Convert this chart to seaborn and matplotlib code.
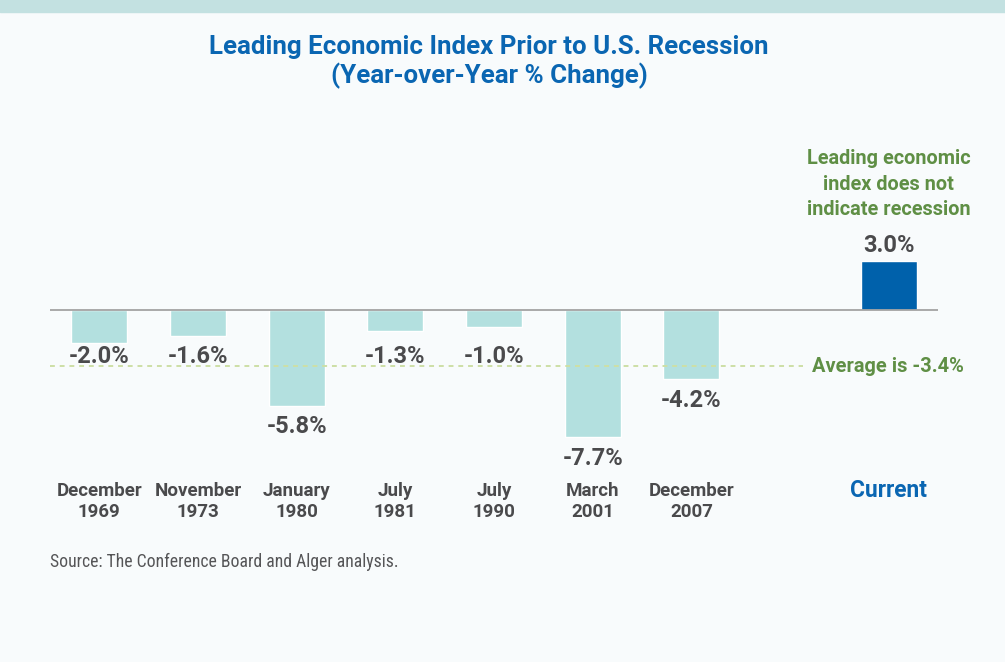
import matplotlib
matplotlib.use("Agg")
import matplotlib.pyplot as plt
from matplotlib.patches import Rectangle
import seaborn as sns
import pandas as pd

# ---- data ----
periods = ["December\n1969", "November\n1973", "January\n1980", "July\n1981",
           "July\n1990", "March\n2001", "December\n2007", "Current"]
values = [-2.0, -1.6, -5.8, -1.3, -1.0, -7.7, -4.2, 3.0]
value_labels = ["-2.0%", "-1.6%", "-5.8%", "-1.3%", "-1.0%", "-7.7%", "-4.2%", "3.0%"]
kinds = ["past"] * 7 + ["current"]
average = -3.4
average_label = "Average is -3.4%"
note = "Leading economic\nindex does not\nindicate recession"
title = "Leading Economic Index Prior to U.S. Recession\n(Year-over-Year % Change)"
source = "Source: The Conference Board and Alger analysis."

spacer = " "
order = periods[:-1] + [spacer] + periods[-1:]

df = pd.DataFrame({"period": periods, "value": values, "kind": kinds})

# ---- style ----
sns.set_theme(style="white")
SANS = ["Roboto", "DejaVu Sans"]
COND = ["Roboto Condensed", "DejaVu Sans"]
plt.rcParams["font.family"] = SANS

BG = "#f8fbfc"
BAND = "#c3e1e1"
LIGHT = "#b3e0df"
DARK = "#0061ab"
BLUE = "#0a66b2"
GREEN = "#5f8f45"
GRAY = "#4a4a4c"

W, H = 1005, 662
fig = plt.figure(figsize=(W / 100, H / 100), dpi=100, facecolor=BG)
fig.patches.append(Rectangle((0, 1 - 12 / H), 1, 12 / H, transform=fig.transFigure,
                             color=BAND, zorder=0))

zero_px, ppu = 310, 16.5
ymax, ymin = 10, -10
top_px = zero_px - ymax * ppu
bot_px = zero_px - ymin * ppu
ax = fig.add_axes([50 / W, 1 - bot_px / H, 888 / W, (bot_px - top_px) / H])
ax.set_facecolor("none")

sns.barplot(data=df, x="period", y="value", hue="kind", order=order,
            palette={"past": LIGHT, "current": DARK}, width=0.57,
            dodge=False, legend=False, saturation=1, ax=ax)

ax.set_xlim(-0.5, len(order) - 0.5)
ax.set_ylim(ymin, ymax)
for s in ax.spines.values():
    s.set_visible(False)
ax.set_yticks([])
ax.set_ylabel("")
ax.set_xlabel("")

ax.axhline(0, color="#a3a3a3", lw=1.3, zorder=3)
ax.axhline(average, xmin=0, xmax=(803 - 50) / 888, color="#cddfa6", lw=1.4,
           ls=(0, (2.5, 2.5)), zorder=1)

# value labels (small bars share a common label line)
label_floor = -2.0
for p, v, lab in zip(periods, values, value_labels):
    xi = order.index(p)
    if v > 0:
        y, off = v, 5.8
    elif v >= label_floor:
        y, off = label_floor, -14.4
    else:
        y, off = v, -19.8
    ax.annotate(lab, (xi, y), xytext=(0, off), textcoords="offset points",
                ha="center", va="baseline", fontsize=17, color=GRAY,
                family=SANS, fontweight="bold")

# x labels
ax.set_xticks(range(len(order)))
ax.set_xticklabels([o if o != "Current" else "" for o in order],
                   fontsize=13.5, fontweight="bold", color=GRAY, linespacing=1.2)
ax.tick_params(axis="x", length=0, pad=5)
cur_x = order.index("Current")
ax.text(cur_x, (zero_px - 497) / ppu, "Current", ha="center", va="baseline",
        fontsize=16.4, fontweight="bold", color=BLUE, clip_on=False)

# annotations
ax.text(cur_x, (zero_px - 184) / ppu, note, ha="center", va="center",
        fontsize=14.3, fontweight="bold", color=GREEN, linespacing=1.42)
ax.text(-0.5 + (812 - 50) / 98.67, average, average_label, ha="left", va="center",
        fontsize=14.4, fontweight="bold", color=GREEN)

fig.text(489 / W, 1 - 62 / H, title, ha="center", va="center", fontsize=18.6,
         fontweight="bold", color=BLUE, linespacing=1.2)
fig.text(50 / W, 1 - 562 / H, source, ha="left", va="center", fontsize=12.7,
         color="#555557", family=COND)

fig.savefig("out.png", dpi=100, facecolor=BG)
